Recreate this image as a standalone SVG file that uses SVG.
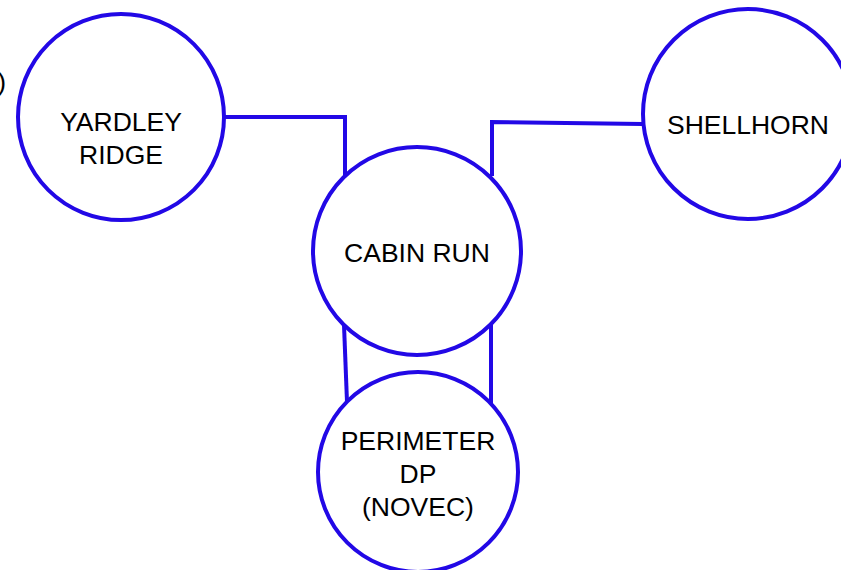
<svg xmlns="http://www.w3.org/2000/svg" width="841" height="570" viewBox="0 0 841 570">
<style>
.node circle{fill:#fff;stroke:#2208e6;stroke-width:4}
.edge{fill:none;stroke:#2208e6;stroke-width:4}
text{font-family:"Liberation Sans",Arial,sans-serif;font-size:26.5px;fill:#000;text-anchor:middle}
</style>
<rect width="841" height="570" fill="#fff"/>
<g id="connectors">
<path class="edge" d="M225,117 L345,117 L345,177"/>
<path class="edge" d="M492,176 L492,122 L643,124"/>
<path class="edge" d="M344,325 L347,402"/>
<path class="edge" d="M491,325 L491,403"/>
</g>
<text x="6" y="91" style="text-anchor:end">)</text>
<g id="yardley-ridge" class="node">
<circle cx="121" cy="117" r="103"/>
<text x="121" y="131">YARDLEY</text>
<text x="121" y="164">RIDGE</text>
</g>
<g id="cabin-run" class="node">
<circle cx="417" cy="251" r="104"/>
<text x="417" y="262">CABIN RUN</text>
</g>
<g id="perimeter-dp" class="node">
<circle cx="418" cy="472" r="100"/>
<text x="418" y="450">PERIMETER</text>
<text x="418" y="483">DP</text>
<text x="418" y="516">(NOVEC)</text>
</g>
<g id="shellhorn" class="node">
<circle cx="748" cy="114" r="105"/>
<text x="748" y="134">SHELLHORN</text>
</g>
</svg>
